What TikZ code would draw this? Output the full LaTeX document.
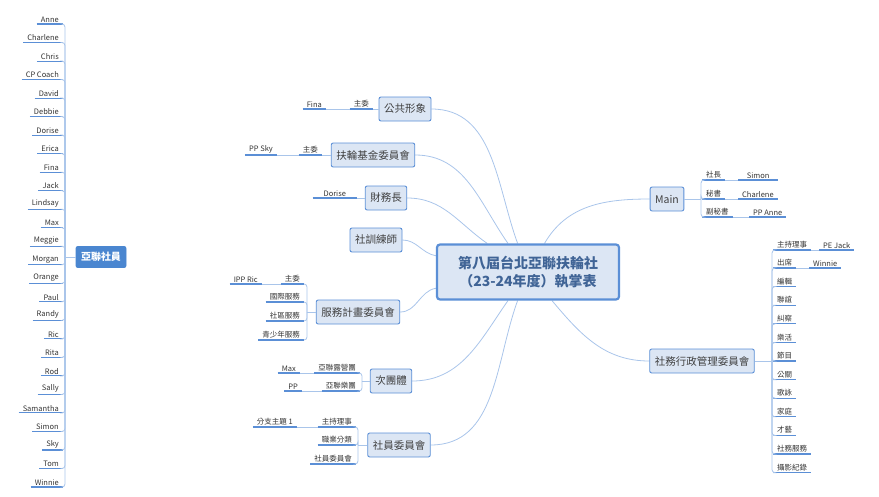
\documentclass[tikz,border=0pt]{standalone}
\usepackage{fontspec}
\setmainfont{Noto Sans CJK TC}
\usetikzlibrary{backgrounds}
\definecolor{bfill}{HTML}{DCE6F4}
\definecolor{bdraw}{HTML}{5B8FD6}
\definecolor{cline}{HTML}{A9C5EA}
\definecolor{ulc}{HTML}{5B8FD6}
\definecolor{mblue}{HTML}{4A86D0}
\tikzset{
  box/.style={draw=bdraw,fill=bfill,rounded corners=2pt,line width=0.9pt,font=\fontsize{10.5}{12}\selectfont,text=black!75,inner xsep=5pt,minimum height=24pt},
  center/.style={draw=bdraw,fill=bfill,rounded corners=3pt,line width=2.2pt,font=\fontsize{14}{18}\bfseries\selectfont,text=bdraw!70!black,align=center,minimum width=182pt,minimum height=55pt},
  leaf/.style={font=\fontsize{7.5}{9}\selectfont,text=black!80,inner xsep=4pt,inner ysep=1.5pt},
  ul/.style={draw=ulc,line width=1.1pt},
  curve/.style={draw=cline,line width=0.8pt},
  brk/.style={draw=cline,line width=0.8pt,rounded corners=3pt},
  dot/.style={circle,draw=cline,fill=white,inner sep=1.3pt},
}
\begin{document}
\begin{tikzpicture}[x=1pt,y=-1pt]
\useasboundingbox (0,0) rectangle (879,496);
\node[center] (c) at (528,272) {第八屆台北亞聯扶輪社\\（23-24年度）執掌表};
% left boxes
\node[box] (gg) at (405,109) {公共形象};
\node[box] (fl) at (373,155) {扶輪基金委員會};
\node[box] (cw) at (386,198) {財務長};
\node[box] (sx) at (376,240) {社訓練師};
\node[box] (fw) at (358,312) {服務計畫委員會};
\node[box] (ct) at (391,381) {次團體};
\node[box] (sy) at (399,445) {社員委員會};
% right boxes
\node[box] (mn) at (667,199) {Main};
\node[box] (sw) at (702,361) {社務行政管理委員會};
% member box
\node[box,fill=mblue,draw=mblue,text=white,font=\fontsize{10}{12}\bfseries\selectfont,minimum height=21pt] (ml) at (101,257) {亞聯社員};
\begin{scope}[on background layer]
\draw[curve] (c) to[out=110,in=0] (gg.east);
\draw[curve] (c) to[out=125,in=0] (fl.east);
\draw[curve] (c) to[out=145,in=0] (cw.east);
\draw[curve] (c) to[out=170,in=0] (sx.east);
\draw[curve] (c) to[out=190,in=0] (fw.east);
\draw[curve] (c) to[out=-125,in=0] (ct.east);
\draw[curve] (c) to[out=-110,in=0] (sy.east);
\draw[curve] (c) to[out=60,in=180] (mn.west);
\draw[curve] (c) to[out=-50,in=180] (sw.west);
\end{scope}
% --- left leaves
\node[leaf,anchor=south east] (g1) at (373,109) {主委};
\node[leaf,anchor=south east] (g2) at (326,109) {Fina};
\draw[ul] (g1.south west)--(g1.south east); \draw[ul] (g2.south west)--(g2.south east);
\draw[brk] (gg.west)--(g1.south east); \draw[brk] (g1.south west)--(g2.south east);
\node[leaf,anchor=south east] (f1) at (322,155) {主委};
\node[leaf,anchor=south east] (f2) at (277,155) {PP Sky};
\draw[ul] (f1.south west)--(f1.south east); \draw[ul] (f2.south west)--(f2.south east);
\draw[brk] (fl.west)--(f1.south east); \draw[brk] (f1.south west)--(f2.south east);
\node[leaf,anchor=south east,minimum width=44pt] (d1) at (357,198) {Dorise};
\draw[ul] (d1.south west)--(d1.south east); \draw[brk] (cw.west)--(d1.south east);
% service
\coordinate (fwb) at (307,312);
\node[leaf,anchor=south east] (s1) at (304,284) {主委};
\node[leaf,anchor=south east] (s0) at (262,284) {IPP Ric};
\node[leaf,anchor=south east] (s2) at (304,302) {國際服務};
\node[leaf,anchor=south east] (s3) at (304,321) {社區服務};
\node[leaf,anchor=south east] (s4) at (304,340) {青少年服務};
\foreach \n in {s0,s1,s2,s3,s4} \draw[ul] (\n.south west)--(\n.south east);
\draw[brk] (fw.west)--(fwb);
\foreach \n in {s1,s2,s3,s4} \draw[brk] (fwb) |- (\n.south east);
\draw[brk] (s1.south west)--(s0.south east);
% sub groups
\coordinate (ctb) at (362,381);
\node[leaf,anchor=south east] (t1) at (360,373) {亞聯露營團};
\node[leaf,anchor=south east] (t0) at (300,373) {Max};
\node[leaf,anchor=south east] (t2) at (360,391) {亞聯樂團};
\node[leaf,anchor=south east] (t3) at (302,391) {PP};
\foreach \n in {t0,t1,t2,t3} \draw[ul] (\n.south west)--(\n.south east);
\draw[brk] (ct.west)--(ctb);
\foreach \n in {t1,t2} \draw[brk] (ctb) |- (\n.south east);
\draw[brk] (t1.south west)--(t0.south east); \draw[brk] (t2.south west)--(t3.south east);
% member committee
\coordinate (syb) at (358,445);
\node[leaf,anchor=south east] (y1) at (356,427) {主持理事};
\node[leaf,anchor=south east] (y0) at (297,427) {分支主題 1};
\node[leaf,anchor=south east] (y2) at (356,445) {職業分類};
\node[leaf,anchor=south east] (y3) at (356,464) {社員委員會};
\foreach \n in {y0,y1,y2,y3} \draw[ul] (\n.south west)--(\n.south east);
\draw[brk] (sy.west)--(syb);
\foreach \n in {y1,y2,y3} \draw[brk] (syb) |- (\n.south east);
\draw[brk] (y1.south west)--(y0.south east);
% --- Main
\coordinate (mnb) at (701,199);
\node[leaf,anchor=south west] (m1) at (702,180) {社長};
\node[leaf,anchor=south west,minimum width=40pt] (m1b) at (738,180) {Simon};
\node[leaf,anchor=south west] (m2) at (702,199) {秘書};
\node[leaf,anchor=south west] (m2b) at (738,199) {Charlene};
\node[leaf,anchor=south west] (m3) at (702,217) {副秘書};
\node[leaf,anchor=south west] (m3b) at (749,217) {PP Anne};
\foreach \n in {m1,m1b,m2,m2b,m3,m3b} \draw[ul] (\n.south west)--(\n.south east);
\draw[brk] (mn.east)--(mnb);
\foreach \n in {m1,m2,m3} \draw[brk] (mnb) |- (\n.south west);
\draw[brk] (m1.south east)--(m1b.south west);
\draw[brk] (m2.south east)--(m2b.south west);
\draw[brk] (m3.south east)--(m3b.south west);
% --- admin
\coordinate (swb) at (772,361);
\node[leaf,anchor=south west] (a1) at (773,250) {主持理事};
\node[leaf,anchor=south west] (a1b) at (819,250) {PE Jack};
\node[leaf,anchor=south west] (a2) at (773,268) {出席};
\node[leaf,anchor=south west] (a2b) at (809,268) {Winnie};
\draw[ul] (a1.south west)--(a1.south east); \draw[ul] (a1b.south west)--(a1b.south east);
\draw[ul] (a2.south west)--(a2.south east); \draw[ul] (a2b.south west)--(a2b.south east);
\draw[brk] (a1.south east)--(a1b.south west); \draw[brk] (a2.south east)--(a2b.south west);
\draw[brk] (sw.east)--(swb);
\draw[brk] (swb) |- (a1.south west); \draw[brk] (swb) |- (a2.south west);
\foreach \t [count=\i] in {編輯,聯誼,糾察,樂活,節目,公關,歌詠,家庭,才藝,社務服務,攝影紀錄}{
  \node[leaf,anchor=south west] (r\i) at (773,{268+\i*18.6}) {\t};
  \draw[ul] (r\i.south west)--(r\i.south east);
  \draw[brk] (swb) |- (r\i.south west);
}
% --- members
\coordinate (mlb) at (65,257);
\draw[brk] (ml.west)--(mlb);
\foreach \t [count=\i] in {Anne,Charlene,Chris,CP Coach,David,Debbie,Dorise,Erica,Fina,Jack,Lindsay,Max,Meggie,Morgan,Orange,Paul,Randy,Ric,Rita,Rod,Sally,Samantha,Simon,Sky,Tom,Winnie}{
  \node[leaf,anchor=south east] (p\i) at (63,{5.5+\i*18.52}) {\t};
  \draw[ul] (p\i.south west)--(p\i.south east);
  \draw[brk] (mlb) |- (p\i.south east);
}
\end{tikzpicture}
\end{document}
